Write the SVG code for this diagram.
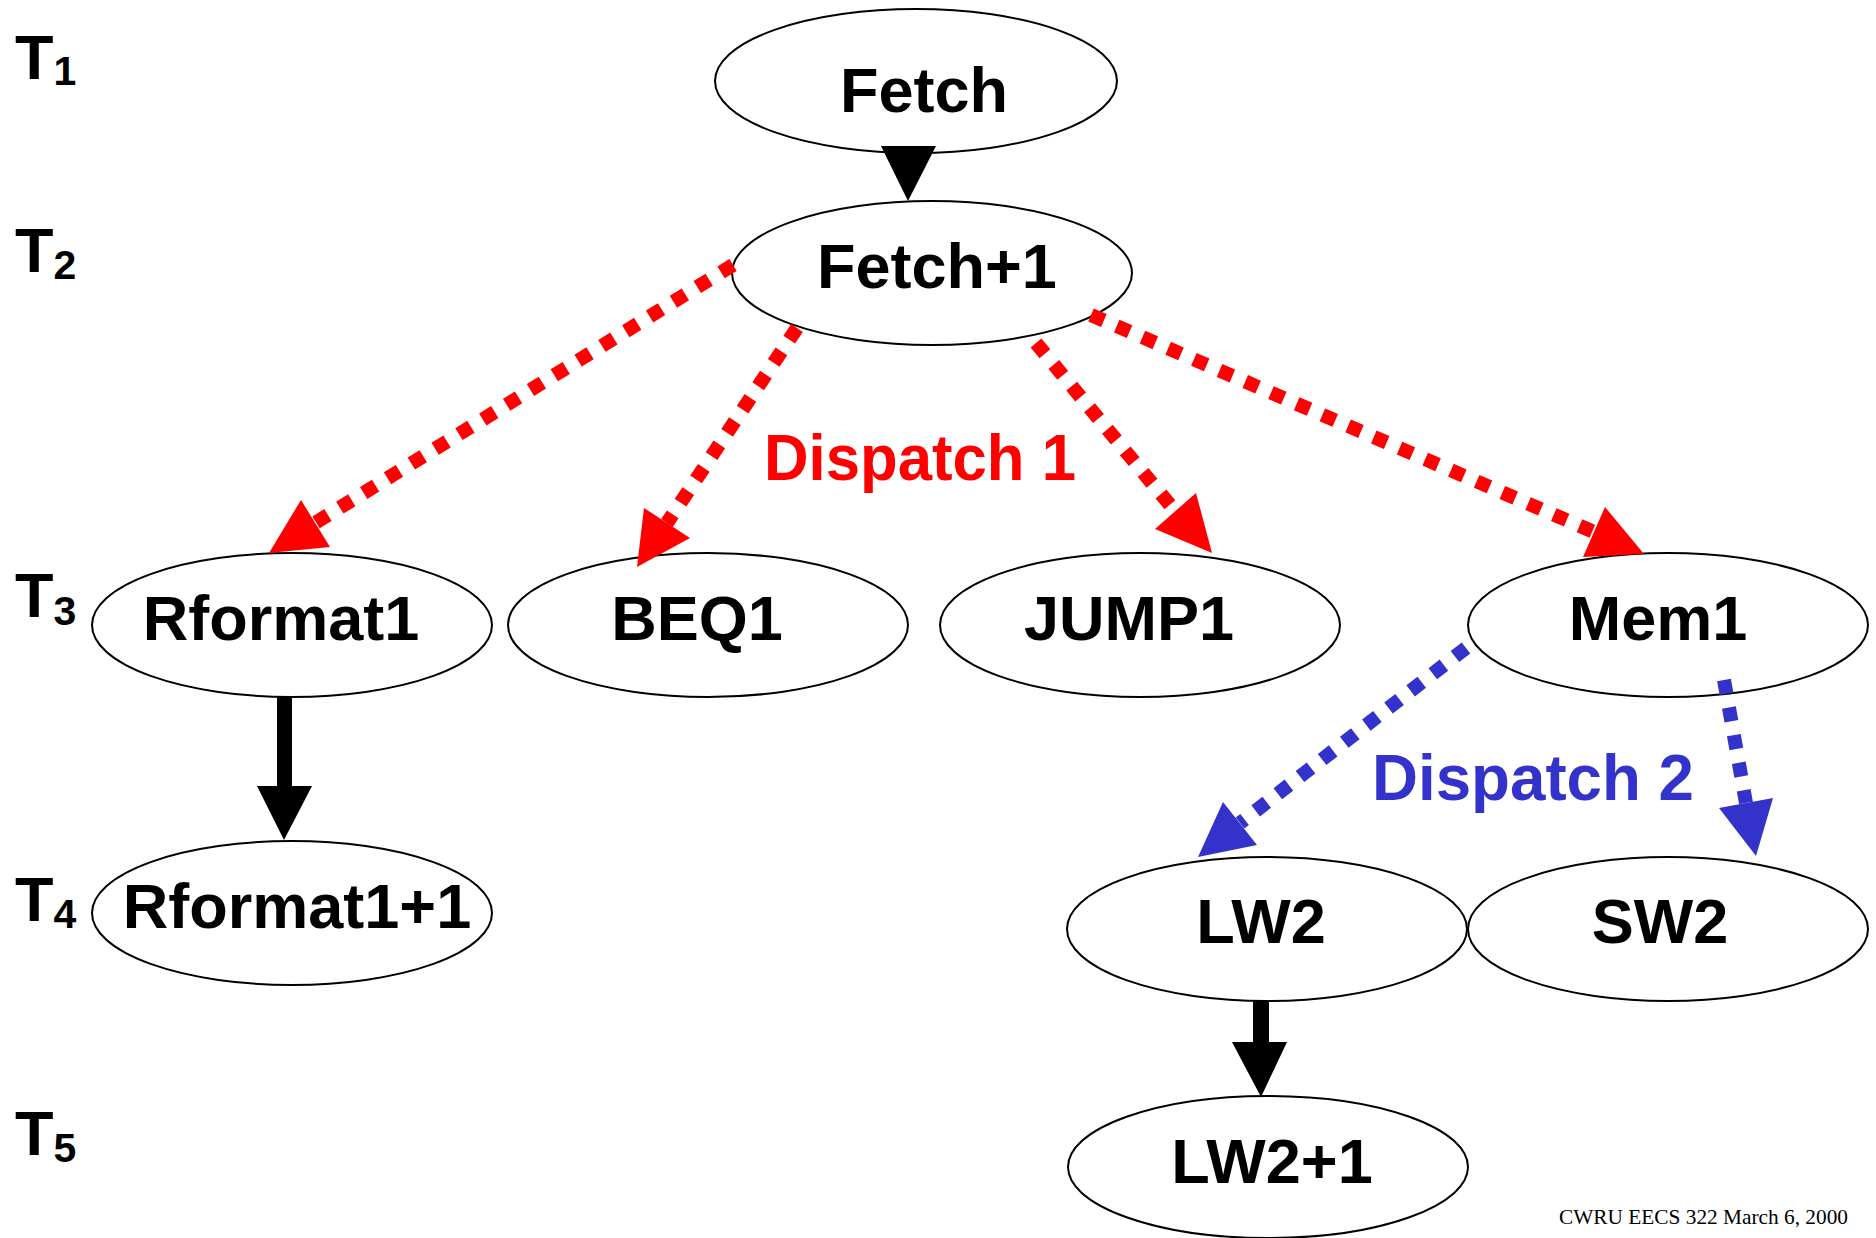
<svg xmlns="http://www.w3.org/2000/svg" width="1876" height="1238" viewBox="0 0 1876 1238">
<style>
.node ellipse{fill:#fff;stroke:#000;stroke-width:2}
.node text{font-family:"Liberation Sans",Arial,sans-serif;font-weight:bold;font-size:63px;fill:#000;text-anchor:middle}
.tl{font-family:"Liberation Sans",Arial,sans-serif;font-weight:bold;font-size:63px;fill:#000}
.sub{font-size:41px}
.red{stroke:#FF0000;stroke-width:14;stroke-dasharray:14 14;fill:none}
.blue{stroke:#3333CC;stroke-width:14;stroke-dasharray:14 14;fill:none}
.rh{fill:#FF0000}
.bh{fill:#3333CC}
.kh{fill:#000}
.lab{font-family:"Liberation Sans",Arial,sans-serif;font-weight:bold;font-size:65px}
</style>
<rect width="1876" height="1238" fill="#fff"/>
<g id="time-labels">
<text class="tl" x="15" y="79">T<tspan class="sub" dy="6">1</tspan></text>
<text class="tl" x="15" y="272">T<tspan class="sub" dy="7">2</tspan></text>
<text class="tl" x="15" y="617">T<tspan class="sub" dy="8">3</tspan></text>
<text class="tl" x="15" y="921">T<tspan class="sub" dy="7">4</tspan></text>
<text class="tl" x="15" y="1155">T<tspan class="sub" dy="7">5</tspan></text>
</g>
<g id="fetch" class="node"><ellipse cx="916" cy="81" rx="201" ry="72"/><text x="924" y="112">Fetch</text></g>
<g id="fetch1" class="node"><ellipse cx="932" cy="273" rx="200" ry="72"/><text x="937" y="288">Fetch+1</text></g>
<g id="rformat1" class="node"><ellipse cx="292" cy="625" rx="200" ry="72"/><text x="281" y="640">Rformat1</text></g>
<g id="beq1" class="node"><ellipse cx="708" cy="625" rx="200" ry="72"/><text x="697" y="640">BEQ1</text></g>
<g id="jump1" class="node"><ellipse cx="1140" cy="625" rx="200" ry="72"/><text x="1129" y="640">JUMP1</text></g>
<g id="mem1" class="node"><ellipse cx="1668" cy="625" rx="200" ry="72"/><text x="1658" y="640">Mem1</text></g>
<g id="rformat1p1" class="node"><ellipse cx="292" cy="913" rx="200" ry="72"/><text x="297" y="928">Rformat1+1</text></g>
<g id="lw2" class="node"><ellipse cx="1267" cy="929" rx="200" ry="72"/><text x="1261" y="943">LW2</text></g>
<g id="sw2" class="node"><ellipse cx="1668" cy="929" rx="200" ry="72"/><text x="1660" y="943">SW2</text></g>
<g id="lw2p1" class="node"><ellipse cx="1268" cy="1167" rx="200" ry="71"/><text x="1272" y="1183">LW2+1</text></g>
<g id="connectors">
<polygon class="kh" points="881,146 936,146 908,201"/>
<rect class="kh" x="277" y="697" width="15" height="90"/>
<polygon class="kh" points="257,786 312,786 284,840"/>
<rect class="kh" x="1253" y="1000" width="16" height="43"/>
<polygon class="kh" points="1232,1042 1287,1042 1261,1097"/>
<line class="red" x1="733" y1="265" x2="315" y2="523"/>
<polygon class="rh" points="301,500 330,547 269,553"/>
<line class="red" x1="797" y1="328" x2="667" y2="523"/>
<polygon class="rh" points="644,508 690,538 637,567"/>
<line class="red" x1="1036" y1="343" x2="1175" y2="511"/>
<polygon class="rh" points="1196,493 1155,529 1212,553"/>
<line class="red" x1="1091" y1="315" x2="1594" y2="532"/>
<polygon class="rh" points="1605,507 1583,557 1644,554"/>
<line class="blue" x1="1466" y1="648" x2="1240" y2="823"/>
<polygon class="bh" points="1223,802 1257,845 1198,857"/>
<line class="blue" x1="1724" y1="680" x2="1746" y2="803"/>
<polygon class="bh" points="1719,808 1773,798 1756,856"/>
</g>
<text class="lab" x="764" y="480" fill="#FF0000" textLength="312" lengthAdjust="spacingAndGlyphs">Dispatch 1</text>
<text class="lab" x="1372" y="800" fill="#3333CC" textLength="322" lengthAdjust="spacingAndGlyphs">Dispatch 2</text>
<text x="1559" y="1224" font-family="'Liberation Serif','Times New Roman',serif" font-size="21" fill="#000" textLength="289" lengthAdjust="spacingAndGlyphs">CWRU EECS 322 March 6, 2000</text>
</svg>
